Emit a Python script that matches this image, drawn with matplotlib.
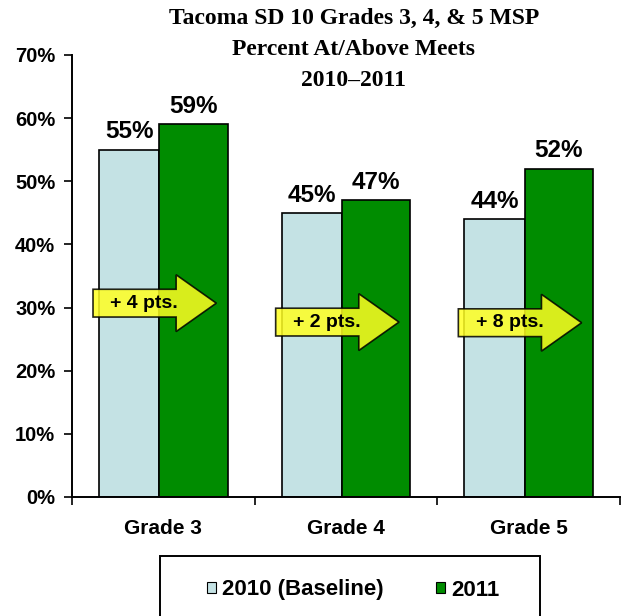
import matplotlib
matplotlib.use("Agg")
import matplotlib.pyplot as plt
from matplotlib.patches import FancyArrow, Rectangle, Patch
import numpy as np

categories = ["Grade 3", "Grade 4", "Grade 5"]
series_names = ["2010 (Baseline)", "2011"]
values_2010 = [55, 45, 44]
values_2011 = [59, 47, 52]
gains = ["+ 4 pts.", "+ 2 pts.", "+ 8 pts."]
arrow_y = [30.7, 27.7, 27.6]
yticks = [0, 10, 20, 30, 40, 50, 60, 70]
title = "Tacoma SD 10 Grades 3, 4, & 5 MSP\nPercent At/Above Meets\n2010\u20132011"

c_light = "#C4E2E4"
c_dark = "#008C00"

W, H = 625, 616
fig = plt.figure(figsize=(W / 100, H / 100), dpi=100)
ax = fig.add_axes([72 / W, 1 - 497 / H, (620 - 72) / W, (497 - 55) / H])

x = np.arange(len(categories))
w1, w2 = 0.33, 0.374
b1 = ax.bar(x - 0.352, values_2010, width=w1, align="edge", color=c_light,
            edgecolor="black", linewidth=1.2, zorder=2)
b2 = ax.bar(x - 0.022, values_2011, width=w2, align="edge", color=c_dark,
            edgecolor="black", linewidth=1.2, zorder=2)

for bars, vals in ((b1, values_2010), (b2, values_2011)):
    for r, v in zip(bars, vals):
        ax.text(r.get_x() + r.get_width() / 2, v + 1.0, f"{v}%", ha="center",
                va="bottom", fontsize=17.5, fontweight="bold", family="Liberation Sans")

for i, (g, yy) in enumerate(zip(gains, arrow_y)):
    x0 = i - 0.385
    length = 0.675
    arr = FancyArrow(x0, yy, length, 0, width=4.4, head_width=9.0,
                     head_length=0.22, length_includes_head=True,
                     facecolor="#FFFF22", alpha=0.85, edgecolor="black",
                     linewidth=1.2, zorder=3)
    ax.add_patch(arr)
    ax.text(x0 + 0.28, yy, g, ha="center", va="center", fontsize=14,
            fontweight="bold", family="Liberation Sans", zorder=4)

ax.set_xlim(-0.5, 2.5)
ax.set_ylim(0, 70)
ax.set_yticks(yticks)
ax.set_yticklabels([f"{t}%" for t in yticks], fontsize=14.5, fontweight="bold",
                   family="Liberation Sans")
ax.set_xticks(x)
ax.set_xticklabels(categories, fontsize=15, fontweight="bold", family="Liberation Sans")
ax.tick_params(axis="x", which="major", length=0, pad=16)
ax.set_xticks([-0.5, 0.5, 1.5, 2.5], minor=True)
ax.tick_params(axis="x", which="minor", length=6, width=1.2, direction="out")
ax.tick_params(axis="y", length=6, width=1.2, direction="out", pad=6)
ax.spines["top"].set_visible(False)
ax.spines["right"].set_visible(False)
for s in ("left", "bottom"):
    ax.spines[s].set_linewidth(1.4)

fig.text(354 / W, 1 - 8 / H, title, ha="center", va="top", fontsize=17,
         fontweight="bold", family="Liberation Serif", linespacing=1.62)

# legend frame (cropped at bottom like the reference)
fig.patches.append(Rectangle((160 / W, -0.1), (540 - 160) / W, 0.1 + 1 - 556 / H,
                             transform=fig.transFigure, facecolor="white",
                             edgecolor="black", linewidth=1.4, clip_on=False))
handles = [Patch(facecolor=c_light, edgecolor="black", linewidth=0.8),
           Patch(facecolor=c_dark, edgecolor="black", linewidth=0.8)]
fig.legend(handles, series_names, loc="center", bbox_to_anchor=(353 / W, 1 - 590 / H),
           ncol=2, frameon=False, handlelength=0.42, handleheight=0.42,
           handletextpad=0.27, columnspacing=2.35,
           prop={"family": "Liberation Sans", "weight": "bold", "size": 16})

fig.savefig("out.png", dpi=100)
